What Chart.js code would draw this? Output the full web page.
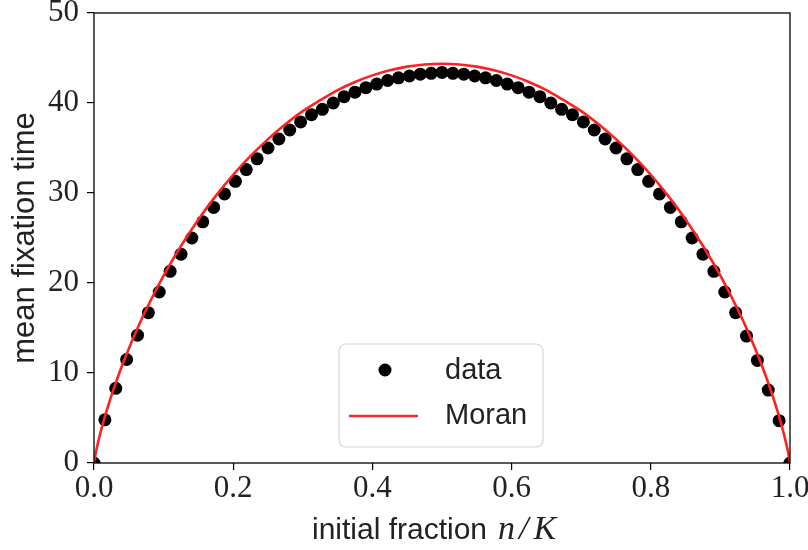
<!DOCTYPE html>
<html>
<head>
<meta charset="utf-8">
<script src="https://cdn.jsdelivr.net/npm/chart.js@4/dist/chart.umd.min.js"></script>
<style>
  html, body { margin: 0; padding: 0; background: #fff; }
</style>
</head>
<body>
<canvas id="chart" width="808" height="550"></canvas>
<script>
// population size, initial counts n = 0..K
const K = 64;
const nValues = [0, 1, 2, 3, 4, 5, 6, 7, 8, 9, 10, 11, 12, 13, 14, 15, 16,
  17, 18, 19, 20, 21, 22, 23, 24, 25, 26, 27, 28, 29, 30, 31, 32,
  33, 34, 35, 36, 37, 38, 39, 40, 41, 42, 43, 44, 45, 46, 47, 48,
  49, 50, 51, 52, 53, 54, 55, 56, 57, 58, 59, 60, 61, 62, 63, 64];
// simulated mean fixation times
const dataTimes = [0, 4.8, 8.3, 11.5, 14.2, 16.7, 19.0, 21.3, 23.2, 25.0, 26.8, 28.4, 29.9, 31.3, 32.6, 33.8, 35.0,
  36.0, 37.0, 37.9, 38.7, 39.3, 40.0, 40.7, 41.2, 41.7, 42.1, 42.5, 42.8, 43.0, 43.2, 43.3, 43.4,
  43.3, 43.2, 43.0, 42.8, 42.5, 42.1, 41.7, 41.2, 40.7, 40.0, 39.3, 38.7, 37.9, 37.0, 36.0, 35.0,
  33.8, 32.6, 31.3, 29.9, 28.4, 26.8, 25.0, 23.2, 21.3, 19.0, 16.7, 14.1, 11.4, 8.1, 4.7, 0];
// Moran curve samples
const moranX = [0, 0.0025, 0.005, 0.01, 0.015, 0.02, 0.03, 0.04, 0.05, 0.06, 0.075, 0.1, 0.125, 0.15,
  0.175, 0.2, 0.225, 0.25, 0.275, 0.3, 0.325, 0.35, 0.375, 0.4, 0.425, 0.45, 0.475, 0.5,
  0.525, 0.55, 0.575, 0.6, 0.625, 0.65, 0.675, 0.7, 0.725, 0.75, 0.775, 0.8, 0.825, 0.85,
  0.875, 0.9, 0.925, 0.94, 0.95, 0.96, 0.97, 0.98, 0.985, 0.99, 0.995, 0.9975, 1];
const moranY = [0, 1.12, 2.01, 3.58, 4.98, 6.27, 8.62, 10.75, 12.70, 14.53, 17.05, 20.81, 24.11, 27.05,
  29.68, 32.03, 34.12, 35.99, 37.64, 39.10, 40.31, 41.44, 42.34, 43.07, 43.64, 44.04, 44.28, 44.36,
  44.28, 44.04, 43.64, 43.07, 42.34, 41.44, 40.31, 39.10, 37.64, 35.99, 34.12, 32.03, 29.68, 27.05,
  24.11, 20.81, 17.05, 14.53, 12.70, 10.75, 8.62, 6.27, 4.98, 3.58, 2.01, 1.12, 0];
const xTicks = [0, 0.2, 0.4, 0.6, 0.8, 1.0];
const yTicks = [0, 10, 20, 30, 40, 50];
const seriesLabels = ["data", "Moran"];

const serif = "'Liberation Serif', 'DejaVu Serif', serif";
const sans = "'Liberation Sans', Arial, sans-serif";
const textColor = "#222";

const framePlugin = {
  id: "frame",
  afterDatasetsDraw(chart) {
    const { ctx, chartArea: a } = chart;
    ctx.save();
    ctx.strokeStyle = "#000";
    ctx.lineWidth = 1.3;
    ctx.strokeRect(a.left, a.top, a.right - a.left, a.bottom - a.top);
    ctx.restore();
  }
};

const labelsPlugin = {
  id: "labels",
  afterDraw(chart) {
    const { ctx, chartArea: a } = chart;
    ctx.save();
    ctx.fillStyle = textColor;
    ctx.textBaseline = "alphabetic";
    ctx.textAlign = "left";

    // x title: plain part then n/K in italic, spaced like TeX math
    const base = 539;
    ctx.font = "30px " + sans;
    const w1 = ctx.measureText("initial fraction").width;
    const x0 = (a.left + a.right) / 2 - (w1 + 11 + 74) / 2;
    ctx.fillText("initial fraction", x0, base);
    ctx.font = "italic 34px " + serif;
    let mx = x0 + w1 + 11;
    ctx.fillText("n", mx, base);
    mx += ctx.measureText("n").width + 4;
    ctx.fillText("/", mx, base);
    mx += ctx.measureText("/").width + 5;
    ctx.fillText("K", mx, base);

    // y title
    ctx.translate(34, (a.top + a.bottom) / 2);
    ctx.rotate(-Math.PI / 2);
    ctx.textAlign = "center";
    ctx.font = "31px " + sans;
    ctx.fillText("mean fixation time", 0, 0);
    ctx.restore();

    // legend
    ctx.save();
    const lx = 339, ly = 344, lw = 204, lh = 103, r = 7;
    ctx.beginPath();
    ctx.moveTo(lx + r, ly);
    ctx.arcTo(lx + lw, ly, lx + lw, ly + lh, r);
    ctx.arcTo(lx + lw, ly + lh, lx, ly + lh, r);
    ctx.arcTo(lx, ly + lh, lx, ly, r);
    ctx.arcTo(lx, ly, lx + lw, ly, r);
    ctx.closePath();
    ctx.fillStyle = "rgba(255,255,255,0.8)";
    ctx.fill();
    ctx.strokeStyle = "#d6d6d6";
    ctx.lineWidth = 1.2;
    ctx.stroke();

    ctx.fillStyle = "#000";
    ctx.beginPath();
    ctx.arc(385, 370, 6.5, 0, Math.PI * 2);
    ctx.fill();
    ctx.strokeStyle = "#ff2b2b";
    ctx.lineWidth = 2.6;
    ctx.beginPath();
    ctx.moveTo(349, 416);
    ctx.lineTo(418, 416);
    ctx.stroke();

    ctx.fillStyle = textColor;
    ctx.font = "29px " + sans;
    ctx.textAlign = "left";
    ctx.textBaseline = "middle";
    ctx.fillText(seriesLabels[0], 445, 371);
    ctx.fillText(seriesLabels[1], 445, 416);
    ctx.restore();
  }
};

const ctx = document.getElementById("chart").getContext("2d");
new Chart(ctx, {
  data: {
    datasets: [
      {
        type: "line",
        label: seriesLabels[1],
        data: moranX.map((x, i) => ({ x: x, y: moranY[i] })),
        borderColor: "#ff2020",
        borderWidth: 2.6,
        pointRadius: 0,
        fill: false,
        cubicInterpolationMode: "monotone",
        order: 0
      },
      {
        type: "scatter",
        label: seriesLabels[0],
        data: nValues.map((n, i) => ({ x: n / K, y: dataTimes[i] })),
        backgroundColor: "#000",
        borderWidth: 0,
        pointRadius: 6.5,
        clip: 0,
        order: 1
      }
    ]
  },
  options: {
    responsive: false,
    animation: false,
    layout: { padding: { left: 0, right: 18, top: 13, bottom: 0 } },
    plugins: {
      legend: { display: false },
      tooltip: { enabled: false }
    },
    scales: {
      x: {
        type: "linear",
        min: 0,
        max: 1,
        afterBuildTicks: (s) => { s.ticks = xTicks.map(v => ({ value: v })); },
        afterFit: (s) => { s.height = 87; s.paddingLeft = 0; s.paddingRight = 0; },
        border: { display: false },
        grid: { drawOnChartArea: false, drawTicks: true, tickLength: 7, color: "#000", lineWidth: 1.2 },
        ticks: {
          autoSkip: false,
          maxRotation: 0,
          padding: 3,
          color: textColor,
          font: { family: serif, size: 31, lineHeight: 1 },
          callback: (v) => v.toFixed(1)
        }
      },
      y: {
        min: 0,
        max: 50,
        afterBuildTicks: (s) => { s.ticks = yTicks.map(v => ({ value: v })); },
        afterFit: (s) => { s.width = 94; s.paddingTop = 0; s.paddingBottom = 0; },
        border: { display: false },
        grid: { drawOnChartArea: false, drawTicks: true, tickLength: 7, color: "#000", lineWidth: 1.2 },
        ticks: {
          autoSkip: false,
          padding: 8,
          color: textColor,
          font: { family: serif, size: 31, lineHeight: 1 },
          callback: (v) => String(v)
        }
      }
    }
  },
  plugins: [framePlugin, labelsPlugin]
});
</script>
</body>
</html>
